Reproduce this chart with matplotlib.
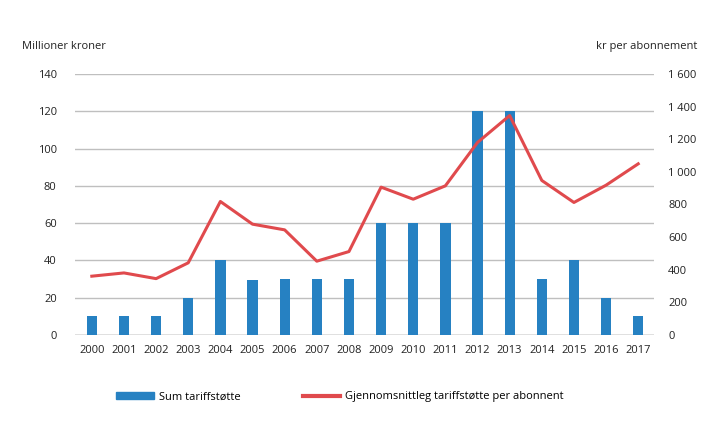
import matplotlib.pyplot as plt
from matplotlib.ticker import FuncFormatter
from matplotlib.patches import Patch
from matplotlib.lines import Line2D

years = [str(y) for y in range(2000, 2018)]
sum_stotte = [10, 10, 10, 20, 40, 29.5, 30, 30, 30, 60, 60, 60, 120, 120, 30, 40, 20, 10]
snitt_per_abonnent = [360, 380, 345, 442, 818, 679, 644, 452, 511, 906, 832, 914,
                      1180, 1345, 947, 812, 918, 1049]

blue = '#2681c2'
red = '#e04a4d'

plt.rcParams['font.family'] = ['Open Sans', 'DejaVu Sans']
plt.rcParams['font.size'] = 8

fig = plt.figure(figsize=(7.19, 4.25), dpi=100)
ax = fig.add_axes([0.104, 0.212, 0.806, 0.614])
ax2 = ax.twinx()

x = range(len(years))
ax.bar(x, sum_stotte, width=0.32, color=blue, zorder=3)
ax2.plot(x, snitt_per_abonnent, color=red, lw=2.2, zorder=4)

ax.set_ylim(0, 140)
ax.set_yticks(range(0, 141, 20))
ax2.set_ylim(0, 1600)
ax2.set_yticks(range(0, 1601, 200))
ax2.yaxis.set_major_formatter(FuncFormatter(lambda v, p: f'{int(v):,}'.replace(',', ' ')))
ax.set_xlim(-0.53, 17.5)
ax.set_xticks(list(x))
ax.set_xticklabels(years)

ax.yaxis.grid(True, color='#bfbfbf', lw=1, zorder=0)
ax.set_axisbelow(True)
for a in (ax, ax2):
    for s in a.spines.values():
        s.set_visible(False)
    a.tick_params(length=0, colors='#222222', labelsize=8)
ax.tick_params(axis='y', pad=13)
ax2.tick_params(axis='y', pad=10)
ax.tick_params(axis='x', pad=7)
ax.axhline(0, color='#999999', lw=1, zorder=2)

fig.text(0.031, 0.89, 'Millioner kroner', fontsize=8, ha='left', va='center', color='#222222')
fig.text(0.970, 0.89, 'kr per abonnement', fontsize=8, ha='right', va='center', color='#222222')

handles = [Patch(color=blue), Line2D([0], [0], color=red, lw=3)]
fig.legend(handles, ['Sum tariffstøtte', 'Gjennomsnittleg tariffstøtte per abonnent'],
           loc='center left', bbox_to_anchor=(0.1613, 0.066), ncol=2, frameon=False,
           borderpad=0, borderaxespad=0,
           handlelength=3.4, handleheight=0.65, columnspacing=5.6, handletextpad=0.45,
           fontsize=8)

fig.savefig('out.png', dpi=100)
